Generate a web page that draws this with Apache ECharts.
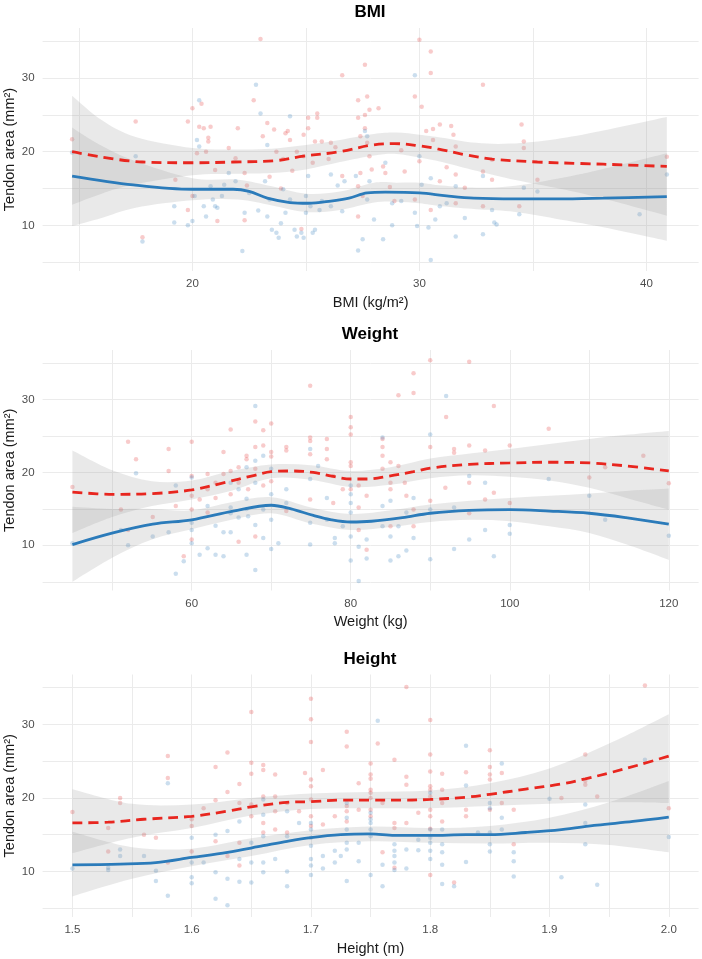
<!DOCTYPE html>
<html>
<head>
<meta charset="utf-8">
<script src="https://cdn.jsdelivr.net/npm/echarts@6/dist/echarts.min.js"></script>
<style>
html, body { margin: 0; padding: 0; background: #fff; }
#main { width: 702px; height: 959px; }
</style>
</head>
<body>
<div id="main"></div>
<script>
// ---- y axis (tendon area), shared by the three panels
var yGridVals = [5, 10, 15, 20, 25, 30, 35];
var yTickLabels = [10, 20, 30];

// ---- BMI panel
var bmiGridX = [15, 20, 25, 30, 35, 40];
var bmiTickX = [20, 30, 40];
var bmiRed = [[14.7,21.7],[17.5,24.1],[17.8,8.4],[19.8,24.1],[20.0,25.9],[20.3,23.4],[20.5,23.2],[20.4,26.5],[20.7,21.9],[20.7,21.4],[20.8,23.4],[20.6,20.0],[20.2,19.8],[19.25,16.2],[19.8,12.1],[21.1,10.6],[21.6,20.5],[22.0,23.2],[22.7,27.0],[23.0,35.3],[22.3,17.1],[22.3,10.7],[23.1,22.1],[23.3,23.9],[23.6,23.0],[23.7,20.0],[24.1,22.5],[24.2,22.8],[24.3,21.6],[24.6,20.0],[24.9,22.3],[25.1,24.6],[25.1,23.2],[25.5,24.6],[25.5,25.2],[25.4,21.4],[24.9,19.4],[25.3,18.5],[25.7,21.4],[26.1,21.2],[26.6,16.7],[26.6,30.4],[27.3,27.0],[27.3,24.6],[27.6,25.0],[27.6,23.2],[27.7,27.5],[27.8,25.7],[27.6,31.8],[28.2,25.9],[27.4,22.1],[27.7,21.2],[27.8,19.4],[27.4,17.1],[27.3,15.3],[27.5,14.0],[27.3,11.2],[27.9,17.6],[28.4,18.0],[28.5,17.1],[29.35,17.3],[29.8,27.5],[30.0,35.2],[30.1,26.1],[30.5,33.6],[30.5,30.7],[30.0,18.7],[30.3,22.8],[30.6,21.6],[30.6,23.1],[30.9,23.7],[31.4,23.5],[31.5,22.3],[31.6,20.7],[31.2,17.9],[30.9,16.0],[30.5,12.1],[29.8,13.5],[31.6,16.9],[31.6,13.0],[32.0,15.1],[32.8,29.1],[32.8,17.3],[33.2,16.2],[32.8,12.6],[33.2,18.9],[34.5,23.7],[34.6,21.4],[34.6,20.5],[34.4,12.6],[35.2,16.2],[40.9,19.3],[21.0,17.5],[21.9,19.1],[22.4,15.4],[23.4,16.6],[23.9,15.0],[24.4,17.4],[24.0,19.0],[26.0,19.0],[26.3,20.6],[28.7,15.2],[29.2,20.2],[28.9,13.3],[20.0,14.0],[24.8,9.5]];
var bmiBlue = [[14.7,19.9],[17.8,7.8],[17.5,19.4],[19.2,12.6],[19.2,10.4],[19.8,10.0],[20.0,10.6],[20.3,27.0],[20.2,21.6],[20.3,20.7],[20.1,14.0],[20.5,12.6],[20.6,11.2],[20.8,15.3],[20.9,13.5],[21.0,12.6],[21.1,12.4],[21.4,15.5],[21.6,17.1],[21.9,16.0],[22.2,6.5],[22.3,11.7],[22.8,29.1],[23.0,25.2],[23.2,16.0],[23.3,20.9],[23.3,11.2],[23.4,13.5],[23.5,9.4],[23.7,9.0],[23.8,8.3],[23.9,10.3],[24.1,11.7],[24.3,24.8],[24.3,13.5],[24.5,9.4],[24.6,8.5],[24.8,9.0],[24.9,8.3],[25.0,11.7],[25.1,16.7],[25.2,12.6],[25.3,9.0],[25.4,9.4],[25.6,12.1],[25.7,13.3],[26.1,16.9],[26.1,12.6],[26.6,11.9],[26.7,16.0],[27.2,16.7],[27.3,6.6],[27.5,8.1],[27.6,22.8],[27.7,22.1],[27.8,16.0],[27.7,13.5],[28.0,10.8],[28.4,8.1],[28.5,18.5],[28.8,13.0],[28.8,10.0],[29.2,13.3],[29.8,30.4],[29.8,11.7],[29.9,9.9],[30.1,15.5],[30.0,19.4],[30.4,9.7],[30.5,5.3],[30.5,16.4],[30.7,10.8],[30.9,12.6],[31.2,13.0],[31.6,15.3],[31.6,8.5],[32.0,11.0],[32.8,16.7],[32.8,8.8],[33.2,12.1],[33.3,10.4],[33.4,10.1],[34.4,11.5],[34.6,15.1],[35.2,14.6],[39.7,11.5],[40.9,16.9],[22.5,14.4],[24.0,14.9],[25.0,14.0],[26.4,15.4],[21.3,14.0],[22.9,12.0]];
var bmiRedLine = [[14.7,20.0],[17.8,18.6],[20,18.5],[21.8,18.6],[23.7,18.8],[24.9,19.4],[26.5,20.0],[27.9,20.9],[28.9,21.1],[30,20.8],[30.8,20.4],[32.0,19.6],[33.2,19.0],[35.2,18.6],[37.1,18.4],[39.1,18.2],[40.9,18.0]];
var bmiBlueLine = [[14.7,16.7],[17.4,15.5],[20,14.9],[21.8,14.9],[22.5,14.6],[23.3,13.7],[24.3,13.1],[25.1,13.0],[26.1,13.3],[26.9,13.7],[27.7,14.4],[28.5,14.5],[30,14.4],[31.2,14.0],[32.4,13.7],[34.2,13.6],[36.1,13.6],[38.1,13.7],[40.9,13.9]];
var bmiBandX = [14.7, 16, 17.5, 20, 22, 23.5, 25, 26.5, 28, 29, 30, 31, 32.5, 34, 36, 38, 40.9];
var bmiRedLow = [12.8, 14.3, 15.6, 16.8, 17.0, 17.1, 17.6, 18.6, 19.5, 19.7, 19.2, 18.6, 17.4, 16.3, 15.1, 13.7, 11.3];
var bmiRedHigh = [27.6, 24.3, 22.0, 20.5, 20.3, 20.4, 20.9, 21.6, 22.4, 22.6, 22.3, 21.9, 21.2, 21.1, 21.7, 22.8, 24.7];
var bmiBlueLow = [9.9, 11.0, 12.4, 13.4, 13.5, 12.7, 11.8, 12.1, 13.1, 13.2, 13.0, 12.6, 12.2, 11.9, 10.9, 9.8, 7.9];
var bmiBlueHigh = [23.3, 20.8, 18.7, 16.4, 16.2, 15.3, 14.3, 14.6, 15.8, 15.8, 15.8, 15.4, 15.1, 15.3, 16.3, 17.6, 19.8];

// ---- Weight panel
var wGridX = [50, 60, 70, 80, 90, 100, 110, 120];
var wTickX = [60, 80, 100, 120];
var wRed = [[45.0,18.0],[52.0,24.2],[51.1,14.9],[53.0,21.8],[52.0,12.1],[55.1,13.9],[57.1,23.2],[57.1,20.2],[58.0,15.4],[59.0,8.5],[60,24.2],[60,19.5],[60,16.8],[60,14.9],[60,10.8],[61,16.3],[62,19.8],[62,17.7],[62,14.5],[63,18.6],[63,16.5],[64,22.8],[64,19.8],[64.9,25.9],[64.9,20.2],[64.9,17.0],[65.9,20.7],[65.9,18.6],[65.9,10.5],[66.9,21.8],[66.9,22.3],[67.1,17.7],[68,23.5],[68,20.5],[68,27.0],[68,11.2],[69,25.8],[69,23.7],[69,18.2],[70,26.7],[70,22.8],[70,22.2],[70,18.8],[71.9,23.5],[71.9,23.0],[71.9,14.7],[74.9,31.9],[74.9,24.8],[74.9,24.3],[74.9,22.5],[74.9,16.3],[77,24.6],[77,23.2],[77,21.8],[77.8,19.5],[77.8,15.8],[79,17.7],[80,27.6],[80,26.2],[80,25.2],[80,21.4],[80,20.9],[80,17.7],[81,18.2],[81,15.2],[81,12.1],[82,16.8],[82,9.4],[84,24.6],[84,23.5],[84,22.3],[84,20.5],[85,21.4],[85,18.6],[85,17.7],[85,12.6],[86,30.6],[86,20.9],[86.8,18.6],[87,16.8],[87.9,33.6],[87.9,30.9],[87.9,14.9],[87.9,12.6],[90,35.4],[90,23.5],[90,16.1],[91.9,17.9],[92,27.6],[93,23.2],[93,22.7],[94.9,35.2],[94.9,23.7],[94.9,18.6],[94.9,14.4],[96.9,23.0],[96.9,16.3],[98,29.1],[98,17.2],[100,23.7],[100,15.8],[104.9,26.0],[110,19.3],[112,20.7],[116.8,22.3],[120,18.5]];
var wBlue = [[45.0,10.3],[51.1,12.1],[52.0,10.0],[53.0,19.9],[55.1,11.2],[57.1,11.8],[58.0,18.2],[58.0,6.1],[59.0,7.8],[60,19.3],[60,13.1],[60,12.1],[60,10.3],[61,8.7],[62,9.6],[62,15.4],[63,8.7],[63,12.7],[64,8.5],[64,11.8],[64.9,18.6],[64.9,15.2],[64.9,14.4],[64.9,11.8],[65.9,17.7],[65.9,13.8],[66.9,20.7],[66.9,16.4],[66.9,15.0],[66.9,8.7],[67.1,14.0],[68,29.1],[68,21.6],[68,18.6],[68,12.8],[68,6.6],[69,22.3],[69,14.9],[69,11.0],[70,20.5],[70,17.0],[70,13.5],[70,9.5],[70.9,10.3],[71.9,17.7],[71.9,15.8],[74.9,23.2],[74.9,19.1],[74.9,13.1],[74.9,10.1],[75.9,20.9],[77,16.5],[77,13.5],[78,11.0],[78,10.3],[79,12.6],[80,18.2],[80,17.0],[80,15.8],[80,14.5],[80,11.2],[80,7.9],[81,9.8],[81,5.1],[82,10.8],[82,8.2],[84,24.8],[84,15.4],[84,12.6],[85,16.1],[85,11.2],[85,7.9],[86,12.6],[86,8.5],[87,14.5],[87,9.3],[87.9,16.5],[87.9,11.0],[90,25.2],[90,14.9],[90,8.1],[92,30.5],[93,15.2],[93,9.5],[94.9,19.5],[94.9,10.8],[96.9,18.6],[96.9,12.1],[98,8.5],[100,12.8],[100,11.6],[104.9,19.1],[110,16.8],[112,13.5],[120,11.3]];
var wRedLine = [[45,17.3],[50.1,17.0],[55.1,17.1],[60,17.6],[64.1,18.6],[67.5,19.5],[70,20.1],[72.5,20.2],[75.3,20.0],[77.6,19.5],[80,19.1],[82,19.1],[84.8,19.5],[87.9,20.1],[90,20.6],[94.9,21.1],[100,21.3],[105,21.4],[110.1,21.3],[114.6,20.9],[120,20.2]];
var wBlueLine = [[45,10.1],[50.1,11.7],[55.1,12.9],[60,13.5],[65.2,14.7],[70,15.5],[72.5,15.0],[75.3,14.1],[77.6,13.5],[80,13.2],[82.6,13.3],[86.5,13.8],[90,14.4],[94.9,14.8],[100,14.9],[105,14.7],[110,14.4],[114.6,13.8],[120,12.9]];
var wBandX = [45, 50, 55, 60, 65, 70, 75, 80, 85, 90, 95, 100, 105, 110, 115, 120];
var wRedLow = [11.7, 13.9, 15.4, 16.3, 17.5, 19.2, 19.0, 18.0, 18.3, 19.2, 19.6, 19.4, 18.9, 17.9, 16.4, 14.9];
var wRedHigh = [23.0, 20.3, 18.8, 18.9, 20.2, 21.1, 21.0, 20.2, 20.7, 21.9, 22.6, 23.2, 23.9, 24.6, 25.2, 25.7];
var wBlueLow = [5.0, 8.3, 10.8, 12.2, 13.5, 14.4, 13.0, 12.1, 12.5, 13.2, 13.5, 13.3, 12.6, 11.7, 10.0, 8.0];
var wBlueHigh = [15.3, 15.0, 15.0, 14.8, 15.9, 16.6, 15.2, 14.3, 14.8, 15.6, 16.1, 16.5, 16.8, 17.1, 17.5, 17.8];

// ---- Height panel
var hGridX = [1.5, 1.55, 1.6, 1.65, 1.7, 1.75, 1.8, 1.85, 1.9, 1.95, 2.0];
var hTickX = [1.5, 1.6, 1.7, 1.8, 1.9, 2.0];
var hRed = [[1.50,18.1],[1.53,15.9],[1.53,12.7],[1.54,20.0],[1.54,19.3],[1.56,15.0],[1.57,14.6],[1.58,25.7],[1.58,22.7],[1.58,11.2],[1.60,17.1],[1.60,16.2],[1.60,12.7],[1.61,18.6],[1.62,24.2],[1.62,19.7],[1.62,14.1],[1.63,26.2],[1.63,20.8],[1.63,12.1],[1.64,21.9],[1.64,19.3],[1.64,13.9],[1.64,10.8],[1.65,31.7],[1.65,24.8],[1.65,23.3],[1.65,19.1],[1.65,17.5],[1.66,24.5],[1.66,23.8],[1.66,20.2],[1.66,16.6],[1.66,15.3],[1.67,23.2],[1.67,20.2],[1.67,18.2],[1.67,15.7],[1.68,19.3],[1.68,15.3],[1.69,18.2],[1.695,23.4],[1.70,33.5],[1.70,30.7],[1.70,27.6],[1.70,22.5],[1.70,21.6],[1.70,19.8],[1.70,17.5],[1.70,16.2],[1.71,23.8],[1.71,16.4],[1.72,17.5],[1.73,27.0],[1.73,29.0],[1.73,18.9],[1.73,18.2],[1.73,16.8],[1.74,22.0],[1.74,18.4],[1.75,24.7],[1.75,23.2],[1.75,22.6],[1.75,21.1],[1.75,20.7],[1.75,20.0],[1.75,18.4],[1.75,17.5],[1.756,27.4],[1.76,19.3],[1.76,12.6],[1.77,25.2],[1.77,16.6],[1.77,15.9],[1.77,10.5],[1.78,35.1],[1.78,22.9],[1.78,21.8],[1.78,16.6],[1.79,18.0],[1.80,30.6],[1.80,25.9],[1.80,23.6],[1.80,21.6],[1.80,21.1],[1.80,20.2],[1.80,18.4],[1.80,17.5],[1.80,15.8],[1.80,9.5],[1.81,23.3],[1.81,21.1],[1.81,19.3],[1.81,16.8],[1.82,8.5],[1.83,23.5],[1.83,18.4],[1.83,17.5],[1.85,26.5],[1.85,24.2],[1.85,23.2],[1.85,22.5],[1.85,18.4],[1.86,23.4],[1.86,19.3],[1.87,18.4],[1.87,13.7],[1.91,20.0],[1.93,25.9],[1.93,22.3],[1.93,21.8],[1.94,20.2],[1.98,35.3],[2.00,18.6]];
var hBlue = [[1.50,10.4],[1.53,10.5],[1.53,10.2],[1.54,13.0],[1.54,12.1],[1.56,12.1],[1.57,10.1],[1.57,8.7],[1.58,22.0],[1.58,6.7],[1.60,14.6],[1.60,11.2],[1.60,9.2],[1.60,8.4],[1.61,11.2],[1.62,15.0],[1.62,9.9],[1.62,6.3],[1.63,15.5],[1.63,9.0],[1.63,5.4],[1.64,16.8],[1.64,11.7],[1.64,8.6],[1.65,13.9],[1.65,11.2],[1.65,8.5],[1.66,19.8],[1.66,17.7],[1.66,14.8],[1.66,11.2],[1.66,9.9],[1.67,11.7],[1.68,18.2],[1.68,14.8],[1.68,10.0],[1.68,8.0],[1.69,16.6],[1.70,16.6],[1.70,15.7],[1.70,14.6],[1.70,13.5],[1.70,11.7],[1.70,10.8],[1.70,9.5],[1.71,12.1],[1.71,10.4],[1.72,12.8],[1.72,11.2],[1.725,12.1],[1.73,19.3],[1.73,17.3],[1.73,15.7],[1.73,13.9],[1.73,13.0],[1.73,8.7],[1.74,13.9],[1.74,11.4],[1.75,18.0],[1.75,17.1],[1.75,16.6],[1.75,15.7],[1.75,14.8],[1.75,9.5],[1.756,30.5],[1.76,10.9],[1.76,8.0],[1.77,13.7],[1.77,12.8],[1.77,12.1],[1.77,11.2],[1.77,10.2],[1.78,13.0],[1.78,10.4],[1.79,14.3],[1.79,12.9],[1.80,20.7],[1.80,15.7],[1.80,14.6],[1.80,13.9],[1.80,12.8],[1.80,11.7],[1.81,15.7],[1.81,13.7],[1.81,12.6],[1.81,10.9],[1.81,8.3],[1.82,8.0],[1.83,27.1],[1.83,21.7],[1.83,11.3],[1.84,15.3],[1.85,19.3],[1.85,18.6],[1.85,15.3],[1.85,13.7],[1.85,12.7],[1.86,24.7],[1.86,17.3],[1.86,15.7],[1.87,12.6],[1.87,11.4],[1.87,9.3],[1.90,19.9],[1.91,9.2],[1.93,19.1],[1.93,16.6],[1.93,13.7],[1.94,8.2],[1.98,25.2],[2.00,14.7]];
var hRedLine = [[1.50,16.6],[1.53,16.7],[1.56,17.1],[1.60,17.5],[1.63,18.2],[1.65,18.8],[1.68,19.4],[1.70,19.5],[1.725,19.7],[1.75,19.7],[1.777,19.7],[1.80,19.8],[1.83,20.1],[1.85,20.5],[1.88,21.2],[1.91,21.9],[1.93,22.6],[1.95,23.4],[1.975,24.5],[2.0,25.7]];
var hBlueLine = [[1.50,10.9],[1.54,11.0],[1.57,11.2],[1.60,11.9],[1.63,12.6],[1.66,13.5],[1.68,14.1],[1.70,14.6],[1.725,15.0],[1.75,15.1],[1.77,14.9],[1.80,14.9],[1.83,15.0],[1.85,15.0],[1.88,15.3],[1.91,15.7],[1.94,16.3],[1.97,16.8],[2.0,17.4]];
var hBandX = [1.5, 1.55, 1.6, 1.65, 1.7, 1.75, 1.8, 1.85, 1.9, 1.95, 2.0];
var hRedLow = [12.5, 14.6, 15.9, 17.6, 18.5, 18.6, 18.6, 18.9, 19.2, 19.4, 19.3];
var hRedHigh = [21.2, 19.2, 19.1, 20.0, 20.6, 20.8, 21.0, 22.0, 24.0, 27.4, 31.4];
var hBlueLow = [6.6, 9.0, 10.7, 12.1, 13.6, 14.1, 13.9, 13.8, 13.9, 13.6, 12.6];
var hBlueHigh = [15.4, 13.3, 13.1, 14.5, 15.6, 16.1, 15.9, 16.2, 17.3, 19.4, 22.3];

var myChart = echarts.init(document.getElementById('main'));

var panels = [
	{ title: 'BMI', xName: 'BMI (kg/m²)', top: 28, height: 243, xMin: 13.4, xMax: 42.3, xGrid: bmiGridX, xTicks: bmiTickX, dec: 0,
	  red: bmiRed, blue: bmiBlue, redLine: bmiRedLine, blueLine: bmiBlueLine,
	  bandX: bmiBandX, redLow: bmiRedLow, redHigh: bmiRedHigh, blueLow: bmiBlueLow, blueHigh: bmiBlueHigh },
	{ title: 'Weight', xName: 'Weight (kg)', top: 350, height: 240.5, xMin: 41.25, xMax: 123.75, xGrid: wGridX, xTicks: wTickX, dec: 0,
	  red: wRed, blue: wBlue, redLine: wRedLine, blueLine: wBlueLine,
	  bandX: wBandX, redLow: wRedLow, redHigh: wRedHigh, blueLow: wBlueLow, blueHigh: wBlueHigh },
	{ title: 'Height', xName: 'Height (m)', top: 674.5, height: 242.5, xMin: 1.475, xMax: 2.025, xGrid: hGridX, xTicks: hTickX, dec: 1,
	  red: hRed, blue: hBlue, redLine: hRedLine, blueLine: hBlueLine,
	  bandX: hBandX, redLow: hRedLow, redHigh: hRedHigh, blueLow: hBlueLow, blueHigh: hBlueHigh }
];

var gridColor = '#ebebeb';
var labelColor = '#4d4d4d';
var bandColor = 'rgba(153,153,153,0.22)';

// catmull-rom -> bezier segments through pixel points (after the first)
function curveTo(pts) {
	var d = '';
	for (var k = 0; k < pts.length - 1; k++) {
		var p0 = pts[k - 1] || pts[k], p1 = pts[k], p2 = pts[k + 1], p3 = pts[k + 2] || p2;
		var c1x = p1[0] + (p2[0] - p0[0]) / 6, c1y = p1[1] + (p2[1] - p0[1]) / 6;
		var c2x = p2[0] - (p3[0] - p1[0]) / 6, c2y = p2[1] - (p3[1] - p1[1]) / 6;
		d += ' C' + c1x + ',' + c1y + ' ' + c2x + ',' + c2y + ' ' + p2[0] + ',' + p2[1];
	}
	return d;
}

// confidence band: smooth upper edge, straight end, smooth lower edge back
function bandSeries(p, i, low, high) {
	return {
		type: 'custom', xAxisIndex: i, yAxisIndex: i, silent: true, z: 3,
		data: p.bandX.map(function (x, k) { return [x, low[k], high[k]]; }),
		encode: { x: 0, y: [1, 2] },
		renderItem: function (params, api) {
			if (params.dataIndex !== 0) return;
			var up = [], down = [];
			for (var k = 0; k < p.bandX.length; k++) {
				up.push(api.coord([p.bandX[k], high[k]]));
				down.unshift(api.coord([p.bandX[k], low[k]]));
			}
			var d = 'M' + up[0][0] + ',' + up[0][1] + curveTo(up) +
				' L' + down[0][0] + ',' + down[0][1] + curveTo(down) + ' Z';
			return {
				type: 'path', shape: { pathData: d },
				style: { fill: bandColor, stroke: null }
			};
		}
	};
}

var option = {
	animation: false,
	textStyle: { fontFamily: 'Liberation Sans, Arial, sans-serif' },
	title: [], grid: [], xAxis: [], yAxis: [], series: []
};

panels.forEach(function (p, i) {
	option.title.push({
		text: p.title, left: 370, top: p.top - 24, textAlign: 'center', padding: 0,
		textStyle: { fontSize: 17, fontWeight: 'bold', color: '#000' }
	});
	option.grid.push({ left: 42.6, width: 656, top: p.top, height: p.height, outerBoundsMode: 'none', containLabel: false });
	option.xAxis.push({
		gridIndex: i, type: 'value', min: p.xMin, max: p.xMax,
		axisLine: { show: false },
		axisTick: { show: false, customValues: p.xGrid },
		axisLabel: {
			customValues: p.xTicks, color: labelColor, fontSize: 11.5, margin: 7,
			formatter: function (v) { return v.toFixed(p.dec); }
		},
		splitLine: { show: true, lineStyle: { color: gridColor, width: 1 } },
		name: p.xName, nameLocation: 'middle', nameGap: 24, nameMoveOverlap: false,
		nameTextStyle: { color: '#1a1a1a', fontSize: 14.5 }
	});
	option.yAxis.push({
		gridIndex: i, type: 'value', min: 3.8, max: 36.8,
		axisLine: { show: false },
		axisTick: { show: false, customValues: yGridVals },
		axisLabel: { customValues: yTickLabels, color: labelColor, fontSize: 11.5, margin: 8 },
		splitLine: { show: true, lineStyle: { color: gridColor, width: 1 } },
		name: 'Tendon area (mm²)', nameLocation: 'middle', nameGap: 25, nameMoveOverlap: false,
		nameTextStyle: { color: '#1a1a1a', fontSize: 14.5 }
	});
	option.series.push({
		type: 'scatter', xAxisIndex: i, yAxisIndex: i, data: p.red, symbolSize: 4.5,
		itemStyle: { color: 'rgba(228,40,40,0.3)' }, z: 2
	});
	option.series.push({
		type: 'scatter', xAxisIndex: i, yAxisIndex: i, data: p.blue, symbolSize: 4.5,
		itemStyle: { color: 'rgba(40,120,185,0.3)' }, z: 2
	});
	option.series.push(bandSeries(p, i, p.redLow, p.redHigh));
	option.series.push(bandSeries(p, i, p.blueLow, p.blueHigh));
	option.series.push({
		type: 'line', xAxisIndex: i, yAxisIndex: i, data: p.redLine, symbol: 'none', smooth: 0.35,
		lineStyle: { color: '#e8261f', width: 2.8, type: [10, 6] }, z: 5
	});
	option.series.push({
		type: 'line', xAxisIndex: i, yAxisIndex: i, data: p.blueLine, symbol: 'none', smooth: 0.35,
		lineStyle: { color: '#2b7bba', width: 2.8 }, z: 5
	});
});

myChart.setOption(option);
</script>
</body>
</html>
